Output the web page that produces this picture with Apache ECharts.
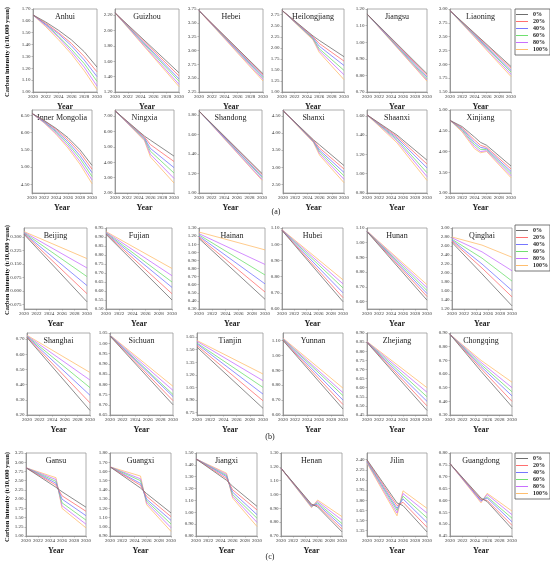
<!DOCTYPE html>
<html>
<head>
<meta charset="utf-8">
<script src="https://cdn.jsdelivr.net/npm/echarts@6/dist/echarts.min.js"></script>
<style>
  html, body { margin: 0; padding: 0; background: #fff; }
  #chart { width: 550px; height: 563px; }
</style>
</head>
<body>
<div id="chart"></div>
<script>
// scenarios (legend)
const scenarios = ['0%', '20%', '40%', '60%', '80%', '100%'];

// x positions used by each kind of line
const yrsLine = [2020, 2030];
const yrsMid = [2020, 2025, 2030];
const yrsBreak = [2020, 2025, 2026, 2030];
const yrsCurve = [2020, 2022, 2024, 2026, 2028, 2030];
const yrsXinjiang = [2020, 2022, 2024, 2025, 2026, 2030];

// ---- (a) ----
const anhui = [
  [1.65, 1.59, 1.52, 1.44, 1.34, 1.21],
  [1.65, 1.58, 1.50, 1.41, 1.30, 1.17],
  [1.65, 1.57, 1.49, 1.39, 1.27, 1.13],
  [1.65, 1.57, 1.47, 1.36, 1.24, 1.09],
  [1.65, 1.56, 1.46, 1.34, 1.21, 1.05],
  [1.65, 1.55, 1.44, 1.32, 1.18, 1.02]
];
const guizhou = [[2.23, 1.45], [2.23, 1.41], [2.23, 1.37], [2.23, 1.34], [2.23, 1.30], [2.23, 1.27]];
const hebei = [[3.72, 2.58], [3.72, 2.56], [3.72, 2.53], [3.72, 2.51], [3.72, 2.48], [3.72, 2.45]];
const heilongjiang = [
  [2.85, 2.27, 2.17, 1.80],
  [2.85, 2.25, 2.10, 1.70],
  [2.85, 2.23, 2.04, 1.60],
  [2.85, 2.21, 1.98, 1.49],
  [2.85, 2.20, 1.94, 1.39],
  [2.85, 2.18, 1.90, 1.28]
];
const jiangsu = [[1.17, 0.81], [1.17, 0.80], [1.17, 0.79], [1.17, 0.78], [1.17, 0.772], [1.17, 0.765]];
const liaoning = [[2.97, 1.96], [2.97, 1.93], [2.97, 1.89], [2.97, 1.86], [2.97, 1.82], [2.97, 1.78]];
const innerMongolia = [
  [6.55, 6.35, 6.12, 5.85, 5.50, 5.05],
  [6.55, 6.34, 6.09, 5.79, 5.42, 4.94],
  [6.55, 6.32, 6.05, 5.73, 5.33, 4.84],
  [6.55, 6.31, 6.02, 5.67, 5.25, 4.73],
  [6.55, 6.29, 5.98, 5.61, 5.16, 4.63],
  [6.55, 6.28, 5.95, 5.55, 5.08, 4.52]
];
const ningxia = [
  [7.35, 5.70, 5.44, 4.40],
  [7.35, 5.64, 5.15, 4.05],
  [7.35, 5.58, 4.90, 3.65],
  [7.35, 5.52, 4.72, 3.30],
  [7.35, 5.46, 4.52, 2.95],
  [7.35, 5.40, 4.35, 2.65]
];
const shandong = [[1.84, 1.20], [1.84, 1.19], [1.84, 1.17], [1.84, 1.16], [1.84, 1.14], [1.84, 1.13]];
const shanxi = [
  [4.65, 3.80, 3.65, 3.05],
  [4.65, 3.78, 3.56, 2.95],
  [4.65, 3.76, 3.50, 2.85],
  [4.65, 3.75, 3.45, 2.75],
  [4.65, 3.74, 3.40, 2.65],
  [4.65, 3.72, 3.35, 2.55]
];
const shaanxi = [
  [1.61, 1.40, 1.14],
  [1.61, 1.385, 1.10],
  [1.61, 1.37, 1.06],
  [1.61, 1.355, 1.01],
  [1.61, 1.34, 0.97],
  [1.61, 1.32, 0.93]
];
const xinjiang = [
  [4.75, 4.60, 4.35, 4.22, 4.15, 3.65],
  [4.75, 4.57, 4.28, 4.15, 4.10, 3.58],
  [4.75, 4.55, 4.22, 4.10, 4.07, 3.52],
  [4.75, 4.52, 4.17, 4.05, 4.05, 3.47],
  [4.75, 4.50, 4.12, 4.00, 4.02, 3.42],
  [4.75, 4.47, 4.07, 3.97, 4.00, 3.37]
];

// ---- (b) ----
const beijing = [[0.315, -0.060], [0.318, -0.015], [0.321, 0.030], [0.324, 0.080], [0.327, 0.128], [0.330, 0.180]];
const fujian = [[0.915, 0.55], [0.918, 0.585], [0.921, 0.62], [0.924, 0.65], [0.927, 0.685], [0.93, 0.725]];
const hainan = [[1.17, 0.42], [1.185, 0.51], [1.20, 0.61], [1.215, 0.72], [1.23, 0.85], [1.25, 1.03]];
const hubei = [[1.085, 0.645], [1.086, 0.67], [1.087, 0.70], [1.088, 0.73], [1.089, 0.755], [1.09, 0.78]];
const hunan = [[1.075, 0.61], [1.076, 0.635], [1.077, 0.655], [1.078, 0.675], [1.079, 0.695], [1.08, 0.715]];
const qinghai = [
  [2.68, 1.98, 1.27],
  [2.71, 2.11, 1.47],
  [2.73, 2.20, 1.61],
  [2.75, 2.33, 1.82],
  [2.78, 2.47, 2.05],
  [2.80, 2.62, 2.35]
];
const shanghai = [[0.71, 0.23], [0.713, 0.28], [0.716, 0.33], [0.719, 0.38], [0.722, 0.43], [0.725, 0.48]];
const sichuan = [[1.035, 0.70], [1.036, 0.72], [1.037, 0.74], [1.038, 0.75], [1.039, 0.77], [1.04, 0.79]];
const tianjin = [[1.53, 0.80], [1.55, 0.89], [1.57, 0.97], [1.58, 1.05], [1.60, 1.13], [1.61, 1.21]];
const yunnan = [[1.10, 0.64], [1.103, 0.67], [1.106, 0.70], [1.109, 0.73], [1.112, 0.75], [1.115, 0.78]];
const zhejiang = [[0.848, 0.475], [0.849, 0.50], [0.85, 0.525], [0.851, 0.55], [0.852, 0.575], [0.853, 0.60]];
const chongqing = [
  [0.89, 0.62, 0.36],
  [0.89, 0.64, 0.40],
  [0.89, 0.655, 0.44],
  [0.89, 0.67, 0.47],
  [0.89, 0.685, 0.50],
  [0.89, 0.70, 0.54]
];

// ---- (c) ----
const gansu = [
  [2.85, 2.32, 2.20, 1.78],
  [2.85, 2.38, 2.09, 1.67],
  [2.85, 2.43, 2.00, 1.55],
  [2.85, 2.48, 1.90, 1.43],
  [2.85, 2.53, 1.82, 1.32],
  [2.85, 2.58, 1.75, 1.22]
];
const guangxi = [
  [1.65, 1.42, 1.36, 1.15],
  [1.65, 1.45, 1.33, 1.11],
  [1.65, 1.47, 1.30, 1.07],
  [1.65, 1.50, 1.28, 1.03],
  [1.65, 1.52, 1.26, 0.99],
  [1.65, 1.55, 1.24, 0.95]
];
const jiangxi = [
  [1.45, 1.27, 1.22, 1.05],
  [1.45, 1.285, 1.19, 1.02],
  [1.45, 1.30, 1.17, 0.98],
  [1.45, 1.31, 1.15, 0.95],
  [1.45, 1.32, 1.135, 0.915],
  [1.45, 1.33, 1.12, 0.88]
];
const henan = [
  [1.19, 0.93, 0.91, 0.73],
  [1.19, 0.925, 0.92, 0.75],
  [1.19, 0.92, 0.93, 0.77],
  [1.19, 0.915, 0.94, 0.79],
  [1.19, 0.91, 0.95, 0.815],
  [1.19, 0.905, 0.96, 0.84]
];
const jilin = [
  [2.40, 1.76, 1.72, 1.33],
  [2.39, 1.72, 1.77, 1.40],
  [2.38, 1.68, 1.82, 1.47],
  [2.37, 1.65, 1.86, 1.54],
  [2.36, 1.61, 1.90, 1.61],
  [2.35, 1.57, 1.94, 1.68]
];
const guangdong = [
  [0.755, 0.61, 0.595, 0.48],
  [0.755, 0.605, 0.60, 0.495],
  [0.755, 0.60, 0.61, 0.51],
  [0.755, 0.60, 0.615, 0.525],
  [0.755, 0.595, 0.625, 0.54],
  [0.755, 0.59, 0.63, 0.555]
];

// name, years, values, y axis [min, max, first tick, step, last tick, decimals]
const panels = [
  ['Anhui', yrsCurve, anhui, [1.00, 1.70, 1.00, 0.10, 1.70, 2]],
  ['Guizhou', yrsLine, guizhou, [1.20, 2.28, 1.20, 0.20, 2.20, 2]],
  ['Hebei', yrsLine, hebei, [2.25, 3.75, 2.25, 0.25, 3.75, 2]],
  ['Heilongjiang', yrsBreak, heilongjiang, [1.00, 2.88, 1.00, 0.25, 2.75, 2]],
  ['Jiangsu', yrsLine, jiangsu, [0.70, 1.20, 0.70, 0.10, 1.20, 2]],
  ['Liaoning', yrsLine, liaoning, [1.50, 3.00, 1.50, 0.25, 3.00, 2]],
  ['Inner Mongolia', yrsCurve, innerMongolia, [4.25, 6.65, 4.50, 0.50, 6.50, 2]],
  ['Ningxia', yrsBreak, ningxia, [2.00, 7.40, 2.00, 1.00, 7.00, 2]],
  ['Shandong', yrsLine, shandong, [1.00, 1.85, 1.00, 0.20, 1.80, 2]],
  ['Shanxi', yrsBreak, shanxi, [2.25, 4.67, 2.50, 0.50, 4.50, 2]],
  ['Shaanxi', yrsMid, shaanxi, [0.80, 1.66, 0.80, 0.20, 1.60, 2]],
  ['Xinjiang', yrsXinjiang, xinjiang, [3.00, 5.00, 3.00, 0.50, 5.00, 2]],
  ['Beijing', yrsLine, beijing, [-0.10, 0.35, -0.075, 0.075, 0.300, 3]],
  ['Fujian', yrsLine, fujian, [0.50, 0.95, 0.50, 0.05, 0.95, 2]],
  ['Hainan', yrsLine, hainan, [0.30, 1.30, 0.30, 0.10, 1.30, 2]],
  ['Hubei', yrsLine, hubei, [0.60, 1.10, 0.60, 0.10, 1.10, 2]],
  ['Hunan', yrsLine, hunan, [0.55, 1.10, 0.60, 0.10, 1.10, 2]],
  ['Qinghai', yrsMid, qinghai, [1.20, 3.00, 1.20, 0.20, 3.00, 2]],
  ['Shanghai', yrsLine, shanghai, [0.20, 0.74, 0.20, 0.10, 0.70, 2]],
  ['Sichuan', yrsLine, sichuan, [0.65, 1.05, 0.65, 0.05, 1.05, 2]],
  ['Tianjin', yrsLine, tianjin, [0.72, 1.70, 0.75, 0.15, 1.65, 2]],
  ['Yunnan', yrsLine, yunnan, [0.60, 1.15, 0.60, 0.10, 1.10, 2]],
  ['Zhejiang', yrsLine, zhejiang, [0.45, 0.90, 0.45, 0.05, 0.90, 2]],
  ['Chongqing', yrsMid, chongqing, [0.30, 0.90, 0.30, 0.10, 0.90, 2]],
  ['Gansu', yrsBreak, gansu, [1.00, 3.25, 1.00, 0.25, 3.25, 2]],
  ['Guangxi', yrsBreak, guangxi, [0.90, 1.80, 0.90, 0.10, 1.80, 2]],
  ['Jiangxi', yrsBreak, jiangxi, [0.80, 1.50, 0.80, 0.10, 1.50, 2]],
  ['Henan', yrsBreak, henan, [0.70, 1.30, 0.70, 0.10, 1.30, 2]],
  ['Jilin', yrsBreak, jilin, [1.27, 2.50, 1.35, 0.15, 2.40, 2]],
  ['Guangdong', yrsBreak, guangdong, [0.45, 0.80, 0.45, 0.05, 0.80, 2]]
];

// layout: box top/bottom per row, box left/right per row and column
const rowBox = [[9, 92], [110, 193], [228, 309], [333, 415], [453, 536]];
const colBox = [
  [[33, 97], [115, 179], [199, 263], [282, 344], [367, 427], [450, 511]],
  [[32, 92], [115, 174], [199, 262], [283, 344], [367, 427], [450, 511]],
  [[24, 87], [106, 172], [199, 265], [282, 343], [367, 427], [452, 512]],
  [[27, 90], [110, 173], [197, 263], [283, 343], [367, 427], [450, 512]],
  [[26, 86], [110, 171], [196, 257], [281, 342], [367, 427], [450, 512]]
];
const colors = ['#6e6e6e', '#ff7070', '#7676ff', '#70e070', '#c870ff', '#ffbe6e'];
const serif = '"Liberation Serif", "Times New Roman", serif';

function tickList(first, step, last) {
  const n = Math.round((last - first) / step);
  const out = [];
  for (let i = 0; i <= n; i++) out.push(+(first + i * step).toFixed(4));
  return out;
}

const grid = [], xAxis = [], yAxis = [], series = [], graphic = [];

panels.forEach(function (p, i) {
  const row = Math.floor(i / 6), col = i % 6;
  const [l, r] = colBox[row][col];
  const [t, b] = rowBox[row];
  const ax = p[3];
  const ticks = tickList(ax[2], ax[3], ax[4]);

  grid.push({
    left: l, top: t, width: r - l, height: b - t,
    show: true, borderColor: '#9a9a9a', borderWidth: 0.8,
    containLabel: false, outerBoundsMode: 'none'
  });

  xAxis.push({
    gridIndex: i, type: 'value', min: 2020, max: 2030, interval: 2,
    name: 'Year', nameLocation: 'middle', nameGap: 11,
    nameTextStyle: { fontFamily: serif, fontSize: 8, fontWeight: 'bold', color: '#222' },
    axisLine: { show: true, onZero: false, lineStyle: { color: '#888', width: 0.8 } },
    axisTick: { show: true, length: 1.5, lineStyle: { color: '#888', width: 0.6 } },
    axisLabel: { fontFamily: serif, fontSize: 5, color: '#333', margin: 2.5, formatter: v => String(v) },
    splitLine: { show: false }
  });

  yAxis.push({
    gridIndex: i, type: 'value', min: ax[0], max: ax[1],
    axisLine: { show: true, onZero: false, lineStyle: { color: '#888', width: 0.8 } },
    axisTick: { show: true, length: 1.5, customValues: ticks, lineStyle: { color: '#888', width: 0.6 } },
    axisLabel: {
      customValues: ticks, fontFamily: serif, fontSize: 5, color: '#333', margin: 2.5,
      formatter: v => Number(v).toFixed(ax[5])
    },
    splitLine: { show: false }
  });

  // draw 100% first so the 0% line stays on top
  for (let k = 5; k >= 0; k--) {
    series.push({
      type: 'line', name: scenarios[k],
      xAxisIndex: i, yAxisIndex: i,
      data: p[1].map((yr, j) => [yr, p[2][k][j]]),
      symbol: 'none', silent: true,
      lineStyle: { width: 0.8, color: colors[k] },
      itemStyle: { color: colors[k] }
    });
  }

  graphic.push({
    type: 'text', x: (l + r) / 2, y: t + 4, silent: true,
    style: { text: p[0], align: 'center', verticalAlign: 'top', fontFamily: serif, fontSize: 8, fill: '#222' }
  });
});

// big y-axis titles and section labels
[52, 270, 497].forEach(function (cy) {
  graphic.push({
    type: 'text', x: 7, y: cy, rotation: Math.PI / 2, silent: true,
    style: {
      text: 'Carbon intensity (t/10,000 yuan)', align: 'center', verticalAlign: 'middle',
      fontFamily: serif, fontSize: 6.5, fontWeight: 'bold', fill: '#111'
    }
  });
});
[['(a)', 276, 212], ['(b)', 270, 437], ['(c)', 270, 557]].forEach(function (s) {
  graphic.push({
    type: 'text', x: s[1], y: s[2], silent: true,
    style: { text: s[0], align: 'center', verticalAlign: 'middle', fontFamily: serif, fontSize: 8, fill: '#222' }
  });
});

// one legend per section
const legend = [9, 225, 453].map(function (top) {
  return {
    data: scenarios.map(n => ({ name: n, icon: 'rect' })),
    orient: 'vertical', left: 515, top: top,
    itemWidth: 12, itemHeight: 1, itemGap: 0,
    padding: [2, 2, 2, 1], borderColor: '#555', borderWidth: 0.8,
    selectedMode: false,
    textStyle: { fontFamily: serif, fontSize: 6, fontWeight: 'bold', color: '#222', lineHeight: 7, width: 13, align: 'right' }
  };
});

const myChart = echarts.init(document.getElementById('chart'), null, { renderer: 'canvas' });
myChart.setOption({
  animation: false,
  backgroundColor: '#fff',
  legend: legend,
  grid: grid,
  xAxis: xAxis,
  yAxis: yAxis,
  series: series,
  graphic: graphic
});
</script>
</body>
</html>
